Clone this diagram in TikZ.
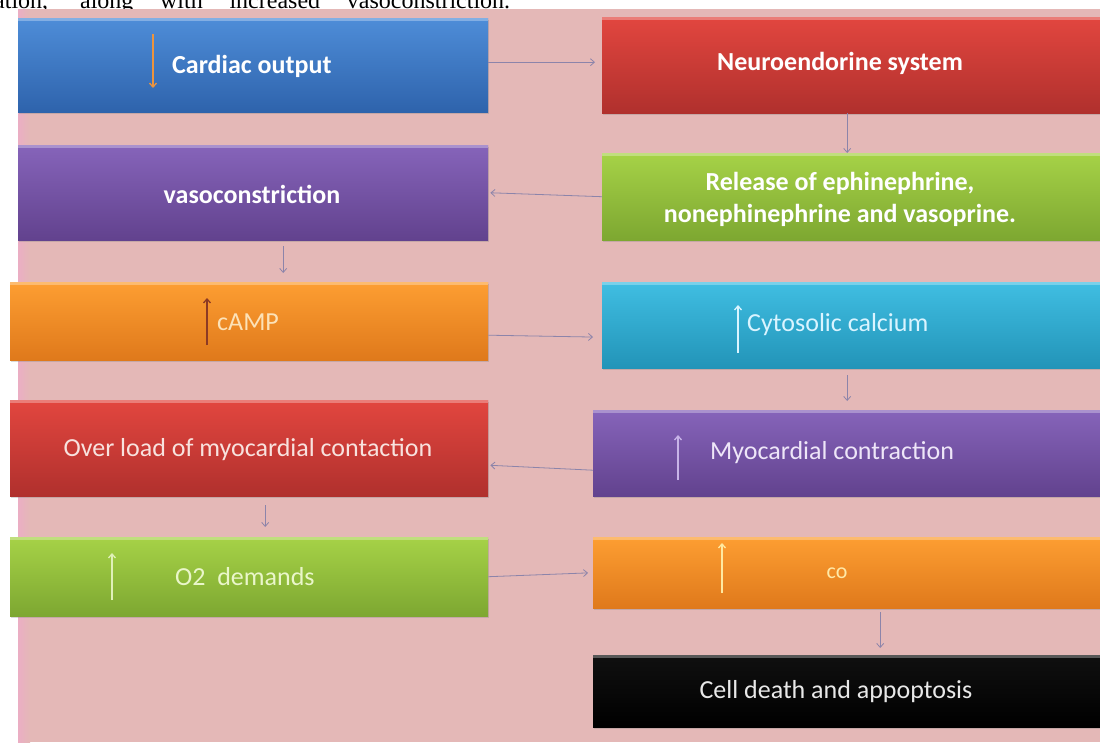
\documentclass[tikz,border=0pt]{standalone}
\usepackage{fontspec}
\setmainfont{Carlito}
\newfontfamily\timesf{Liberation Serif}
\usetikzlibrary{arrows.meta,shadows}
\definecolor{bgpink}{HTML}{E4B8B7}
\definecolor{pinkedge}{HTML}{EBAEC4}
\definecolor{connc}{HTML}{8C84AA}
\definecolor{blueT}{HTML}{4E8DD8}
\definecolor{blueB}{HTML}{2E63AC}
\definecolor{redT}{HTML}{E2463F}
\definecolor{redB}{HTML}{B0302D}
\definecolor{purT}{HTML}{8664BA}
\definecolor{purB}{HTML}{62428E}
\definecolor{grnT}{HTML}{A6D247}
\definecolor{grnB}{HTML}{7DA731}
\definecolor{orgT}{HTML}{FD9E32}
\definecolor{orgB}{HTML}{DF791B}
\definecolor{cyaT}{HTML}{40BEE2}
\definecolor{cyaB}{HTML}{2294B8}
\definecolor{blkT}{HTML}{101010}
\definecolor{blkB}{HTML}{000000}
\begin{document}
\begin{tikzpicture}[x=1pt,y=-1pt,
  box/.style={anchor=north west, inner sep=0pt,
    drop shadow={opacity=0.3,shadow xshift=1pt,shadow yshift=-2pt},
    path picture={\fill[white,opacity=.3] (path picture bounding box.north west) rectangle ([yshift=-3pt]path picture bounding box.north east);}},
  conn/.style={draw=connc, line width=0.8pt, -{Straight Barb[length=4pt,width=7pt]}},
  lblb/.style={font=\fontsize{26}{32}\selectfont\bfseries, text=white, inner sep=0pt, align=center},
  lbl/.style={font=\fontsize{26}{32}\selectfont, inner sep=0pt},
  sym/.style={line width=1.3pt, -{Straight Barb[length=4pt,width=7pt]}}
]
\clip (0,0) rectangle (1100,742);
\node[font=\timesf\fontsize{24}{28}\selectfont, anchor=base west, inner sep=0pt] (toptext) at (-6,8) {\makebox[516pt][s]{ation, along with increased vasoconstriction.}};
\fill[bgpink] (18,9) rectangle (1100,742);
\shade[left color=pinkedge, right color=bgpink] (18,9) rectangle (30,742);

% boxes
\node[box, top color=blueT, bottom color=blueB, minimum width=470pt, minimum height=94pt] (card) at (18,18) {};
\node[box, top color=redT, bottom color=redB, minimum width=520pt, minimum height=96pt] (neuro) at (602,17) {};
\node[box, top color=purT, bottom color=purB, minimum width=470pt, minimum height=95pt] (vaso) at (18,145) {};
\node[box, top color=grnT, bottom color=grnB, minimum width=520pt, minimum height=87pt] (release) at (602,153) {};
\node[box, top color=orgT, bottom color=orgB, minimum width=478pt, minimum height=78pt] (camp) at (10,282) {};
\node[box, top color=cyaT, bottom color=cyaB, minimum width=520pt, minimum height=86pt] (cyto) at (602,282) {};
\node[box, top color=redT, bottom color=redB, minimum width=478pt, minimum height=96pt] (over) at (10,400) {};
\node[box, top color=purT, bottom color=purB, minimum width=530pt, minimum height=86pt] (myo) at (593,410) {};
\node[box, top color=grnT, bottom color=grnB, minimum width=478pt, minimum height=79pt] (otwo) at (10,537) {};
\node[box, top color=orgT, bottom color=orgB, minimum width=530pt, minimum height=71pt] (co) at (593,537) {};
\node[box, top color=blkT, bottom color=blkB, minimum width=530pt, minimum height=72pt] (cell) at (593,655) {};

% texts
\node[lblb, anchor=west] (cardT) at (172,66) {Cardiac output};
\node[lblb] (neuroT) at (840,63) {Neuroendorine system};
\node[lblb] (vasoT) at (252,194) {vasoconstriction};
\node[lblb] (releaseT) at (840,199) {Release of ephinephrine,\\nonephinephrine and vasoprine.};
\node[lbl, anchor=west, text={rgb,255:red,252;green,226;blue,184}] (campT) at (217,322) {cAMP};
\node[lbl, anchor=west, text={rgb,255:red,218;green,244;blue,255}] (cytoT) at (747,325) {Cytosolic calcium};
\node[lbl, text={rgb,255:red,248;green,226;blue,222}] (overT) at (248,450) {Over load of myocardial contaction};
\node[lbl, anchor=west, text={rgb,255:red,238;green,230;blue,248}] (myoT) at (710,453) {Myocardial contraction};
\node[lbl, anchor=west, text={rgb,255:red,234;green,246;blue,202}] (otwoT) at (175,577) {O2\ \ demands};
\node[lbl, font=\fontsize{22}{26}\selectfont, text={rgb,255:red,255;green,233;blue,168}] (coT) at (837,573) {co};
\node[lbl, text={rgb,255:red,232;green,232;blue,232}] (cellT) at (836,692) {Cell death and appoptosis};

% arrows inside boxes
\draw[sym, draw={rgb,255:red,236;green,148;blue,62}] (153,34) -- (153,88);
\draw[sym, draw={rgb,255:red,140;green,58;blue,36}] (207,345) -- (207,298);
\draw[sym, draw={rgb,255:red,218;green,244;blue,255}] (738,353) -- (738,305);
\draw[sym, draw={rgb,255:red,200;green,180;blue,232}] (678,480) -- (678,435);
\draw[sym, draw={rgb,255:red,224;green,240;blue,184}] (112,600) -- (112,553);
\draw[sym, draw={rgb,255:red,255;green,233;blue,160}] (722,593) -- (722,543);

% connectors
\draw[conn, shorten >=7pt] ([yshift=3pt]card.east) -- ([yshift=3pt]neuro.west);
\draw[conn] ([xshift=-15pt]neuro.south) -- ([xshift=-15pt]release.north);
\draw[conn, shorten >=2pt] (release.west) -- (vaso.east);
\draw[conn, shorten <=6pt, shorten >=9pt] ([xshift=30pt]vaso.south) -- ([xshift=30pt]vaso.south |- camp.north);
\draw[conn, shorten >=9pt] ([yshift=-14pt]camp.east) -- ([yshift=-12pt]cyto.west);
\draw[conn, shorten <=7pt, shorten >=9pt] ([xshift=-15pt]cyto.south) -- ([xshift=-15pt]cyto.south |- myo.north);
\draw[conn, shorten >=2pt] ([yshift=-17pt]myo.west) -- ([yshift=-17pt]over.east);
\draw[conn, shorten <=9pt, shorten >=10pt] ([xshift=16pt]over.south) -- ([xshift=16pt]over.south |- otwo.north);
\draw[conn, shorten >=5pt] (otwo.east) -- (co.west);
\draw[conn, shorten <=4pt, shorten >=7pt] ([xshift=22pt]co.south) -- ([xshift=22pt]co.south |- cell.north);
\end{tikzpicture}
\end{document}
